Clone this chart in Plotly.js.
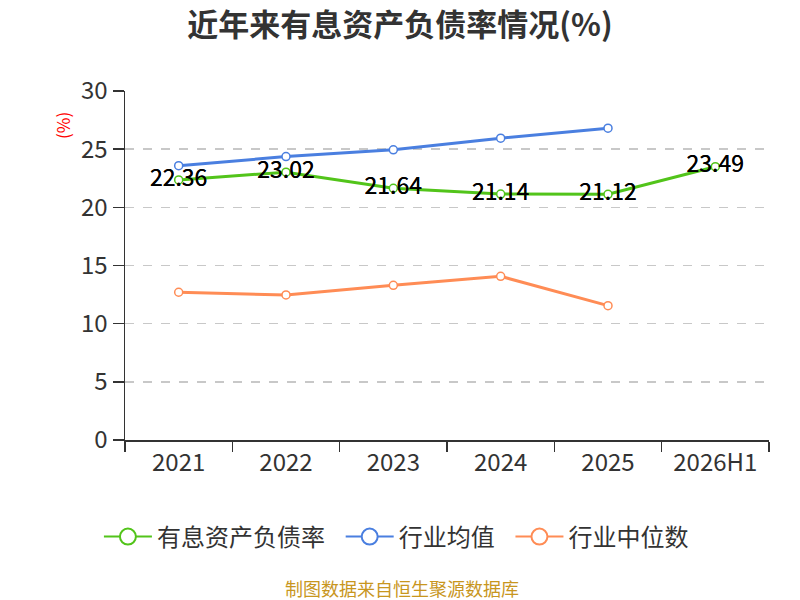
<!DOCTYPE html>
<html>
<head>
<meta charset="utf-8">
<script src="https://cdn.plot.ly/plotly-3.0.1.min.js"></script>
<style>
  html, body { margin: 0; padding: 0; background: #fff; }
  #chart { width: 800px; height: 600px; }
</style>
</head>
<body>
<div id="chart"></div>
<script>
// values
const years = ['2021', '2022', '2023', '2024', '2025', '2026H1'];
const debtRatio = [22.36, 23.02, 21.64, 21.14, 21.12, 23.49];
const industryMean = [23.58, 24.36, 24.94, 25.94, 26.8];
const industryMedian = [12.7, 12.47, 13.3, 14.07, 11.55];

const names = ['有息资产负债率', '行业均值', '行业中位数'];
const colors = ['#52c41a', '#4a7fe0', '#ff8c55'];
const font = '"Noto Sans CJK SC", "Noto Sans", sans-serif';

function series(i, y, withText) {
    let t = {
        type: 'scatter', mode: withText ? 'lines+markers+text' : 'lines+markers',
        name: names[i], x: years.slice(0, y.length), y: y,
        line: {color: colors[i], width: 3},
        marker: {symbol: 'circle', size: 8, color: '#fff', line: {color: colors[i], width: 1.5}},
        cliponaxis: false, hoverinfo: 'skip', showlegend: false
    };
    if (withText) {
        t.text = y.map(v => v.toFixed(2));
        t.textposition = 'middle center';
        t.textfont = {family: font, size: 23, color: '#000'};
    }
    return t;
}

const data = [
    series(0, debtRatio, true),
    series(1, industryMean, false),
    series(2, industryMedian, false)
];
// labels drawn again on top of all lines
data.push(Object.assign({}, data[0], {mode: 'text'}));
// legend entries with bigger open circles
names.forEach((n, i) => {
    data.push({
        type: 'scatter', mode: 'lines+markers', name: n + '\u00a0\u00a0', x: [null], y: [null],
        line: {color: colors[i], width: 2},
        marker: {symbol: 'circle', size: 22, color: '#fff', line: {color: colors[i], width: 2}}
    });
});

const layout = {
    width: 800, height: 600,
    margin: {l: 125, r: 31, t: 91, b: 160},
    paper_bgcolor: '#fff', plot_bgcolor: '#fff',
    font: {family: font, color: '#333'},
    title: {text: '近年来有息资产负债率情况(%)', x: 0.5, xanchor: 'center', y: 0.958, yanchor: 'middle',
            font: {family: font, size: 31, color: '#333', weight: 'bold'}},
    xaxis: {
        type: 'category', range: [-0.5, 5.5], tickson: 'boundaries',
        showline: true, linecolor: '#333', linewidth: 2,
        ticks: 'outside', ticklen: 10, tickcolor: '#333', tickwidth: 1.5,
        showgrid: false, zeroline: false,
        tickfont: {family: font, size: 24, color: '#333'}
    },
    yaxis: {
        range: [0, 30], dtick: 5, showline: true, linecolor: '#333', linewidth: 1.5,
        ticks: 'outside', ticklen: 11, tickcolor: '#333', tickwidth: 1.5,
        showgrid: true, gridcolor: '#c8c8c8', griddash: 'dash', gridwidth: 1.5,
        zeroline: false,
        tickfont: {family: font, size: 24, color: '#333'}
    },
    legend: {orientation: 'h', x: 0.43, xanchor: 'center', y: -0.278, yanchor: 'middle',
             itemwidth: 48, font: {family: font, size: 24, color: '#333'}},
    annotations: [
        {text: '(%)', xref: 'paper', yref: 'paper', x: -0.0963, y: 0.9026, xanchor: 'center', yanchor: 'middle',
         showarrow: false, textangle: -90, font: {family: font, size: 17, color: '#ff0000'}},
        {text: '制图数据来自恒生聚源数据库', xref: 'paper', yref: 'paper', x: 0.43, y: -0.424,
         xanchor: 'center', yanchor: 'middle',
         showarrow: false, font: {family: font, size: 18, color: '#c8961e'}}
    ],
    showlegend: true, hovermode: false
};

Plotly.newPlot('chart', data, layout, {displayModeBar: false, staticPlot: true});
</script>
</body>
</html>
